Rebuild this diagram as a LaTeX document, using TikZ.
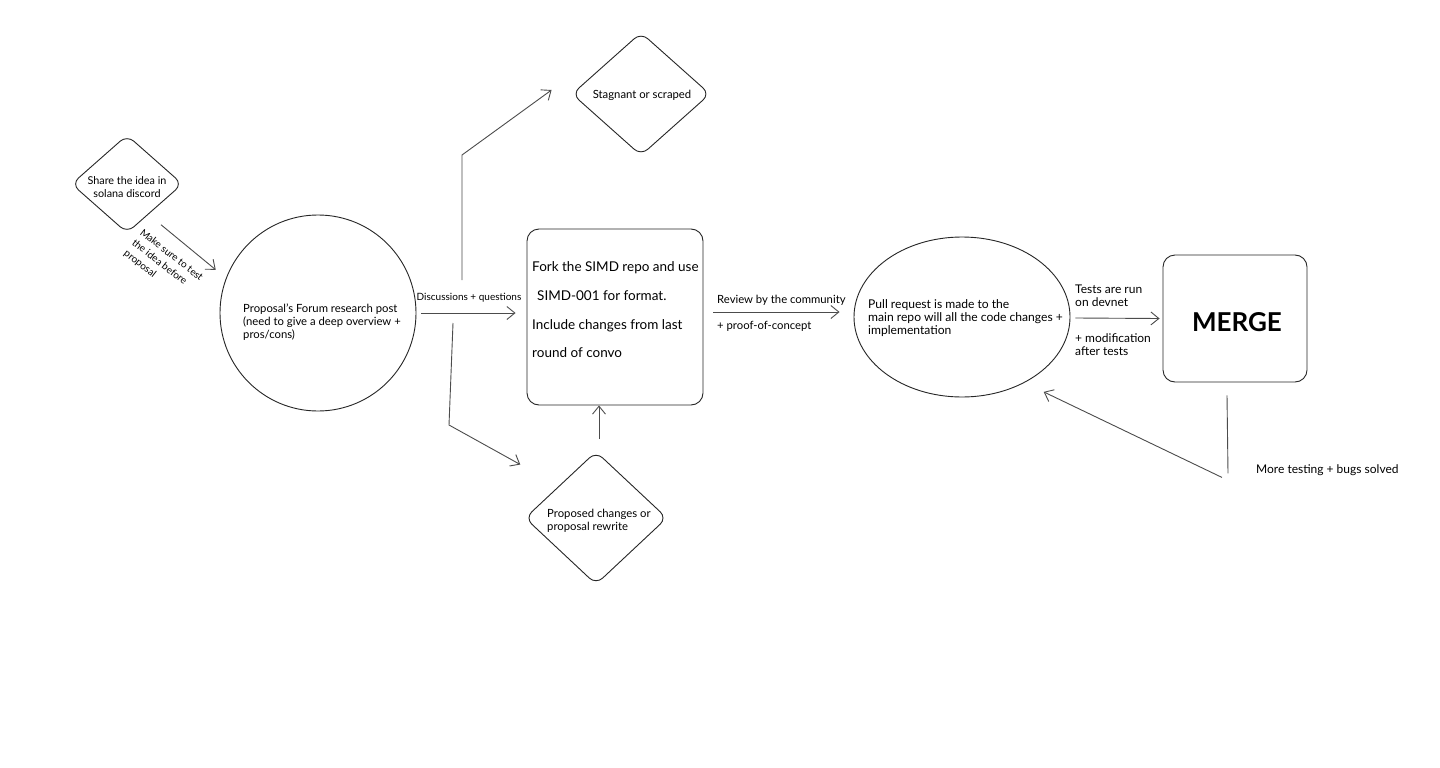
\documentclass[tikz,border=0pt]{standalone}
\usepackage{fontspec}
\setmainfont{Lato}
\usetikzlibrary{shapes.geometric,arrows.meta}
\begin{document}
\begin{tikzpicture}[x=1pt,y=-1pt,
  outl/.style={draw=black!85, line width=0.9pt, inner sep=0pt},
  dia/.style={outl, diamond, rounded corners=9pt},
  box/.style={outl, rectangle, rounded corners=12pt},
  ell/.style={outl, ellipse},
  circ/.style={outl, circle},
  txt/.style={font=\fontsize{12}{13}\selectfont, align=left, inner sep=0pt},
  mid/.style={font=\fontsize{11.3}{13}\selectfont, align=left, inner sep=0pt},
  small/.style={font=\fontsize{10}{13}\selectfont, align=left, inner sep=0pt},
  big/.style={font=\fontsize{13.5}{28.7}\selectfont, align=left, inner sep=0pt},
  ln/.style={draw=black!70, line width=0.9pt},
  arr/.style={ln, -{Straight Barb[length=8pt,width=13pt]}}
]
\useasboundingbox (0,0) rectangle (1440,768);
\fill[white] (0,0) rectangle (1440,768);

% shapes
\node[dia, minimum width=111pt, minimum height=98pt] (share) at (127,184) {};
\node[mid, font=\fontsize{10.8}{12.5}\selectfont, align=center] (shareT) at (127,187) {Share the idea in\\solana discord};

\node[circ, minimum size=196pt] (forum) at (318,313) {};
\node[mid, anchor=west] (forumT) at (243,322) {Proposal's Forum research post\\(need to give a deep overview +\\pros/cons)};

\node[box, minimum width=176pt, minimum height=176pt] (fork) at (615,317) {};
\node[big, anchor=west] (forkT) at (532,310) {Fork the SIMD repo and use\\\hspace*{5pt}SIMD-001 for format.\\Include changes from last\\round of convo};

\node[dia, minimum width=138pt, minimum height=123pt] (stag) at (641,94) {};
\node[mid] (stagT) at (642,95) {Stagnant or scraped};

\node[dia, minimum width=142pt, minimum height=133pt] (prop) at (596,518) {};
\node[mid, anchor=west] (propT) at (547,521) {Proposed changes or\\proposal rewrite};

\node[ell, minimum width=216pt, minimum height=160pt] (pull) at (962,317) {};
\node[font=\fontsize{12.1}{13}\selectfont, align=left, inner sep=0pt, anchor=west] (pullT) at (868,318) {Pull request is made to the\\main repo will all the code changes +\\implementation};

\node[box, minimum width=144pt, minimum height=127pt] (merge) at (1235,318.5) {};
\node[font=\fontsize{26}{30}\selectfont\bfseries, inner sep=0pt] (mergeT) at (1237,322) {MERGE};

% connectors
\draw[arr] ([shift={(6,16)}]share.south east) -- ([shift={(-17,6)}]forum.150);
\node[small, rotate=-38, anchor=west] (makeL) at (133,242) {Make sure to test\\the idea before\\proposal};

\draw[arr] ([xshift=5pt]forum.east) -- ([xshift=-11pt]fork.west |- forum.east);
\node[small] (discL) at (469,298) {Discussions + questions};

\coordinate (up0) at (462,280);
\coordinate (up1) at (462,155);
\draw[arr] (up0) -- (up1) -- ([shift={(-20,-4)}]stag.west);

\coordinate (dn0) at (453,323);
\coordinate (dn1) at (449,425);
\draw[arr] (dn0) -- (dn1) -- ([shift={(-40,-20)}]prop.north west);

\coordinate (pp0) at ([shift={(3,-12)}]prop.north);
\draw[arr] (pp0) -- (pp0 |- fork.south);

\draw[arr] ([shift={(10,-5)}]fork.east) -- ([shift={(-14,-5)}]pull.west);
\node[mid, anchor=west] (revL) at (717,300) {Review by the community};
\node[mid, anchor=west] (pocL) at (717,326) {+ proof-of-concept};

\draw[arr] ([shift={(5,1)}]pull.east) -- ([shift={(-3,0)}]merge.west);
\node[txt, anchor=west] (testL) at (1075,296) {Tests are run\\on devnet};
\node[txt, anchor=west] (modL) at (1075,344.5) {+ modification\\after tests};

\coordinate (b0) at ([shift={(-8,13)}]merge.south);
\coordinate (b1) at ([shift={(-7,91)}]merge.south);
\draw[ln] (b0) -- (b1);
\coordinate (b2) at ([shift={(-13,95)}]merge.south);
\draw[arr] (b2) -- ([shift={(5,18)}]pull.south east);
\node[txt, anchor=west] (moreL) at (1256,470) {More testing + bugs solved};
\end{tikzpicture}
\end{document}
